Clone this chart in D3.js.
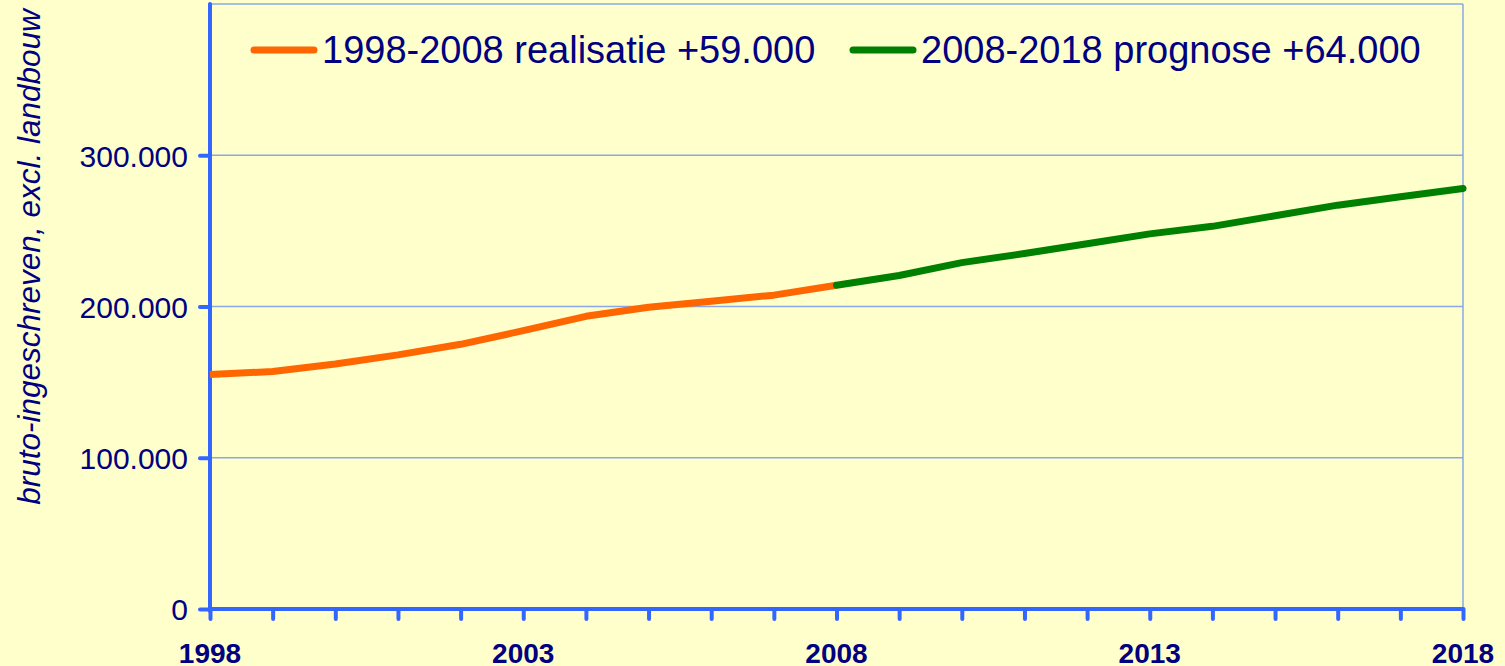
<!DOCTYPE html>
<html>
<head>
<meta charset="utf-8">
<script src="https://cdn.jsdelivr.net/npm/d3@7"></script>
<style>
  body { margin: 0; background: #ffffcc; }
  svg { display: block; font-family: Arial, "Liberation Sans", sans-serif; }
</style>
</head>
<body>
<div id="chart"></div>
<script>
// jaren en waarden (aantal banen)
var years = [1998, 1999, 2000, 2001, 2002, 2003, 2004, 2005, 2006, 2007, 2008,
             2009, 2010, 2011, 2012, 2013, 2014, 2015, 2016, 2017, 2018];
var realisatie = [155000, 157000, 162000, 168000, 175000, 184000, 193500, 199500, 203500, 207500, 214000];
var prognose = [214000, 220500, 229000, 235000, 241500, 248000, 253000, 260000, 267000, 272500, 278000];
var yTicks = [0, 100000, 200000, 300000];
var xLabels = [1998, 2003, 2008, 2013, 2018];
var legendItems = ["1998-2008 realisatie +59.000", "2008-2018 prognose +64.000"];
var legendColors = ["#ff6600", "#008000"];

var W = 1505, H = 666;
var pLeft = 210, pRight = 1463, pTop = 4, pBottom = 609;
var navy = "#000080", axisBlue = "#3366ff", gridBlue = "#8aa8e6";

var svg = d3.select("#chart").append("svg").attr("width", W).attr("height", H);
svg.append("rect").attr("width", W).attr("height", H).attr("fill", "#ffffcc");

var x = d3.scaleLinear().domain([1998, 2018]).range([pLeft, pRight]);
var y = d3.scaleLinear().domain([0, 400000]).range([pBottom, pTop]);

// rasterlijnen
svg.append("g").selectAll("line").data(yTicks.slice(1).concat([400000])).enter().append("line")
    .attr("x1", pLeft).attr("x2", pRight)
    .attr("y1", function(d){ return y(d); }).attr("y2", function(d){ return y(d); })
    .attr("stroke", gridBlue).attr("stroke-width", 1.5);
svg.append("line").attr("x1", pRight).attr("x2", pRight).attr("y1", pTop).attr("y2", pBottom)
    .attr("stroke", gridBlue).attr("stroke-width", 1.5);

// y-as
var yAxis = d3.axisLeft(y).tickValues(yTicks).tickSize(10).tickPadding(12)
    .tickFormat(function(d){ return d == 0 ? "0" : d3.format(",")(d).replace(/,/g, "."); });
var gy = svg.append("g").attr("transform", "translate(" + pLeft + ",0)").call(yAxis);
gy.select(".domain").remove();
gy.append("line").attr("x1", 0).attr("x2", 0).attr("y1", pTop).attr("y2", pBottom + 2)
    .attr("stroke", axisBlue).attr("stroke-width", 4).attr("stroke-linecap", "round");
gy.selectAll(".tick line").attr("stroke", axisBlue).attr("stroke-width", 4).attr("stroke-linecap", "round");
gy.selectAll(".tick text").attr("fill", navy).attr("font-size", 30).attr("dy", "0.36em");

// x-as
var xAxis = d3.axisBottom(x).tickValues(years).tickSize(10).tickFormat("");
var gx = svg.append("g").attr("transform", "translate(0," + pBottom + ")").call(xAxis);
gx.select(".domain").remove();
gx.append("line").attr("x1", pLeft).attr("x2", pRight).attr("stroke", axisBlue).attr("stroke-width", 4);
gx.selectAll(".tick line").attr("stroke", axisBlue).attr("stroke-width", 4).attr("stroke-linecap", "round");
svg.append("g").selectAll("text").data(xLabels).enter().append("text")
    .attr("x", function(d){ return x(d); }).attr("y", 663)
    .attr("text-anchor", "middle").attr("font-size", 28).attr("font-weight", "bold")
    .attr("fill", navy).text(function(d){ return d; });

// as-titel
svg.append("text").attr("transform", "translate(40,257) rotate(-90)")
    .attr("text-anchor", "middle").attr("font-size", 31.5).attr("font-style", "italic")
    .attr("fill", navy).text("bruto-ingeschreven, excl. landbouw");

// lijnen
var line = d3.line().x(function(d){ return x(d[0]); }).y(function(d){ return y(d[1]); });
svg.append("path").datum(realisatie.map(function(v, i){ return [years[i], v]; }))
    .attr("d", line).attr("fill", "none").attr("stroke", legendColors[0])
    .attr("stroke-width", 7).attr("stroke-linejoin", "round");
svg.append("path").datum(prognose.map(function(v, i){ return [years[i + 10], v]; }))
    .attr("d", line).attr("fill", "none").attr("stroke", legendColors[1])
    .attr("stroke-width", 7).attr("stroke-linejoin", "round").attr("stroke-linecap", "round");

// legenda
var legendX = [254, 853];
legendItems.forEach(function(t, i){
  svg.append("line").attr("x1", legendX[i]).attr("x2", legendX[i] + 60).attr("y1", 50).attr("y2", 50)
      .attr("stroke", legendColors[i]).attr("stroke-width", 7).attr("stroke-linecap", "round");
  svg.append("text").attr("x", legendX[i] + 68).attr("y", 63).attr("font-size", 38)
      .attr("fill", navy).text(t);
});
</script>
</body>
</html>
